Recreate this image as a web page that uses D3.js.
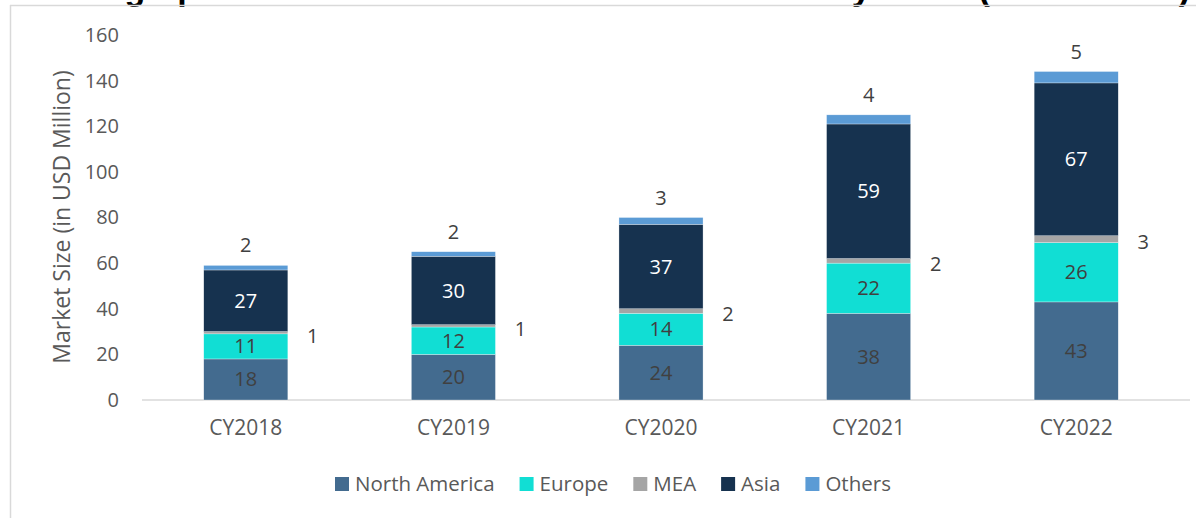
<!DOCTYPE html>
<html>
<head>
<meta charset="utf-8">
<script src="https://cdn.jsdelivr.net/npm/d3@7"></script>
<style>
  html, body { margin: 0; padding: 0; background: #fff; }
  svg { display: block; }
  text { font-family: "Open Sans", Lato, sans-serif; }
</style>
</head>
<body>
<svg id="chart" width="1196" height="518"></svg>
<script>
// Market size by region, USD million
const years = ["CY2018", "CY2019", "CY2020", "CY2021", "CY2022"];
const regions = ["North America", "Europe", "MEA", "Asia", "Others"];
const northAmerica = [18, 20, 24, 38, 43];
const europe = [11, 12, 14, 22, 26];
const mea = [1, 1, 2, 2, 3];
const asia = [27, 30, 37, 59, 67];
const others = [2, 2, 3, 4, 5];
const yTicks = [0, 20, 40, 60, 80, 100, 120, 140, 160];

const seriesValues = [northAmerica, europe, mea, asia, others];
const colors = ["#436b8f", "#11ded4", "#a5a5a5", "#16324f", "#5b9bd5"];

const rows = years.map((y, i) => {
  const r = { year: y };
  regions.forEach((k, j) => { r[k] = seriesValues[j][i]; });
  return r;
});

const svg = d3.select("#chart");

// Heading (runs off the top edge of the frame)
svg.append("text")
  .attr("x", 1190).attr("y", 0)
  .attr("text-anchor", "end")
  .attr("font-size", 34).attr("font-weight", "bold").attr("fill", "#000")
  .style("font-family", "'Liberation Sans', Arial, sans-serif")
  .text("Exhibit 2.4: Geographical Breakdown of Global Market Size by Value (USD Million)");

// Frame edges
svg.append("line").attr("x1", 10).attr("x2", 1196).attr("y1", 5.5).attr("y2", 5.5)
  .attr("stroke", "#d9d9d9").attr("stroke-width", 1.5);
svg.append("line").attr("x1", 10.5).attr("x2", 10.5).attr("y1", 5).attr("y2", 518)
  .attr("stroke", "#d9d9d9").attr("stroke-width", 1.5);

const x = d3.scaleBand().domain(years).range([142, 1180]).paddingInner(0.595).paddingOuter(0.2975);
const y = d3.scaleLinear().domain([0, 160]).range([400, 35]);

// Y axis tick labels
const yAxis = d3.axisLeft(y).tickValues(yTicks).tickSize(0).tickPadding(0);
const gy = svg.append("g").attr("transform", "translate(119,0)").call(yAxis);
gy.select(".domain").remove();
gy.selectAll("text").attr("font-size", 20).attr("fill", "#595959")
  .style("font-family", "'Open Sans', Lato, sans-serif");

// Baseline
svg.append("line").attr("x1", 142).attr("x2", 1190).attr("y1", y(0)).attr("y2", y(0))
  .attr("stroke", "#d9d9d9").attr("stroke-width", 1.5);

// X axis labels
const xAxis = d3.axisBottom(x).tickSize(0).tickPadding(0);
const gx = svg.append("g").attr("transform", "translate(0,420)").call(xAxis);
gx.select(".domain").remove();
gx.selectAll("text").attr("font-size", 21).attr("fill", "#595959")
  .style("font-family", "'Open Sans', Lato, sans-serif");

// Axis title
svg.append("text")
  .attr("transform", "translate(70,217) rotate(-90)")
  .attr("text-anchor", "middle")
  .attr("font-size", 23).attr("fill", "#595959")
  .text("Market Size (in USD Million)");

// Stacked bars
const stacked = d3.stack().keys(regions)(rows);
const layers = svg.append("g").selectAll("g").data(stacked).join("g")
  .attr("fill", (d, i) => colors[i]);
layers.selectAll("rect").data(d => d).join("rect")
  .attr("x", d => x(d.data.year))
  .attr("width", x.bandwidth())
  .attr("y", d => y(d[1]))
  .attr("height", d => y(d[0]) - y(d[1]))
  .attr("stroke", "#ffffff").attr("stroke-width", 0.5).attr("stroke-opacity", 0.6);

// Value labels
stacked.forEach((layer, i) => {
  const key = regions[i];
  layer.forEach(d => {
    const cx = x(d.data.year) + x.bandwidth() / 2;
    const v = d.data[key];
    let tx = cx, ty = (y(d[0]) + y(d[1])) / 2, fill = "#404040";
    if (key === "Asia") fill = "#ffffff";
    if (key === "MEA") { tx = x(d.data.year) + x.bandwidth() + 25; ty = ty + 3; }
    if (key === "Others") { ty = y(d[1]) - 20; }
    svg.append("text")
      .attr("x", tx).attr("y", ty)
      .attr("dy", "0.35em")
      .attr("text-anchor", "middle")
      .attr("font-size", 20).attr("fill", fill)
      .text(v);
  });
});

// Legend
const legend = svg.append("g").attr("transform", "translate(0,484)");
let lx = 335;
regions.forEach((k, i) => {
  const g = legend.append("g").attr("transform", `translate(${lx},0)`);
  g.append("rect").attr("x", 0).attr("y", -7).attr("width", 14).attr("height", 14).attr("fill", colors[i]);
  const t = g.append("text").attr("x", 20).attr("y", 0).attr("dy", "0.35em")
    .attr("font-size", 20.5).attr("fill", "#595959").text(k);
  lx += 20 + t.node().getComputedTextLength() + 25;
});
</script>
</body>
</html>
